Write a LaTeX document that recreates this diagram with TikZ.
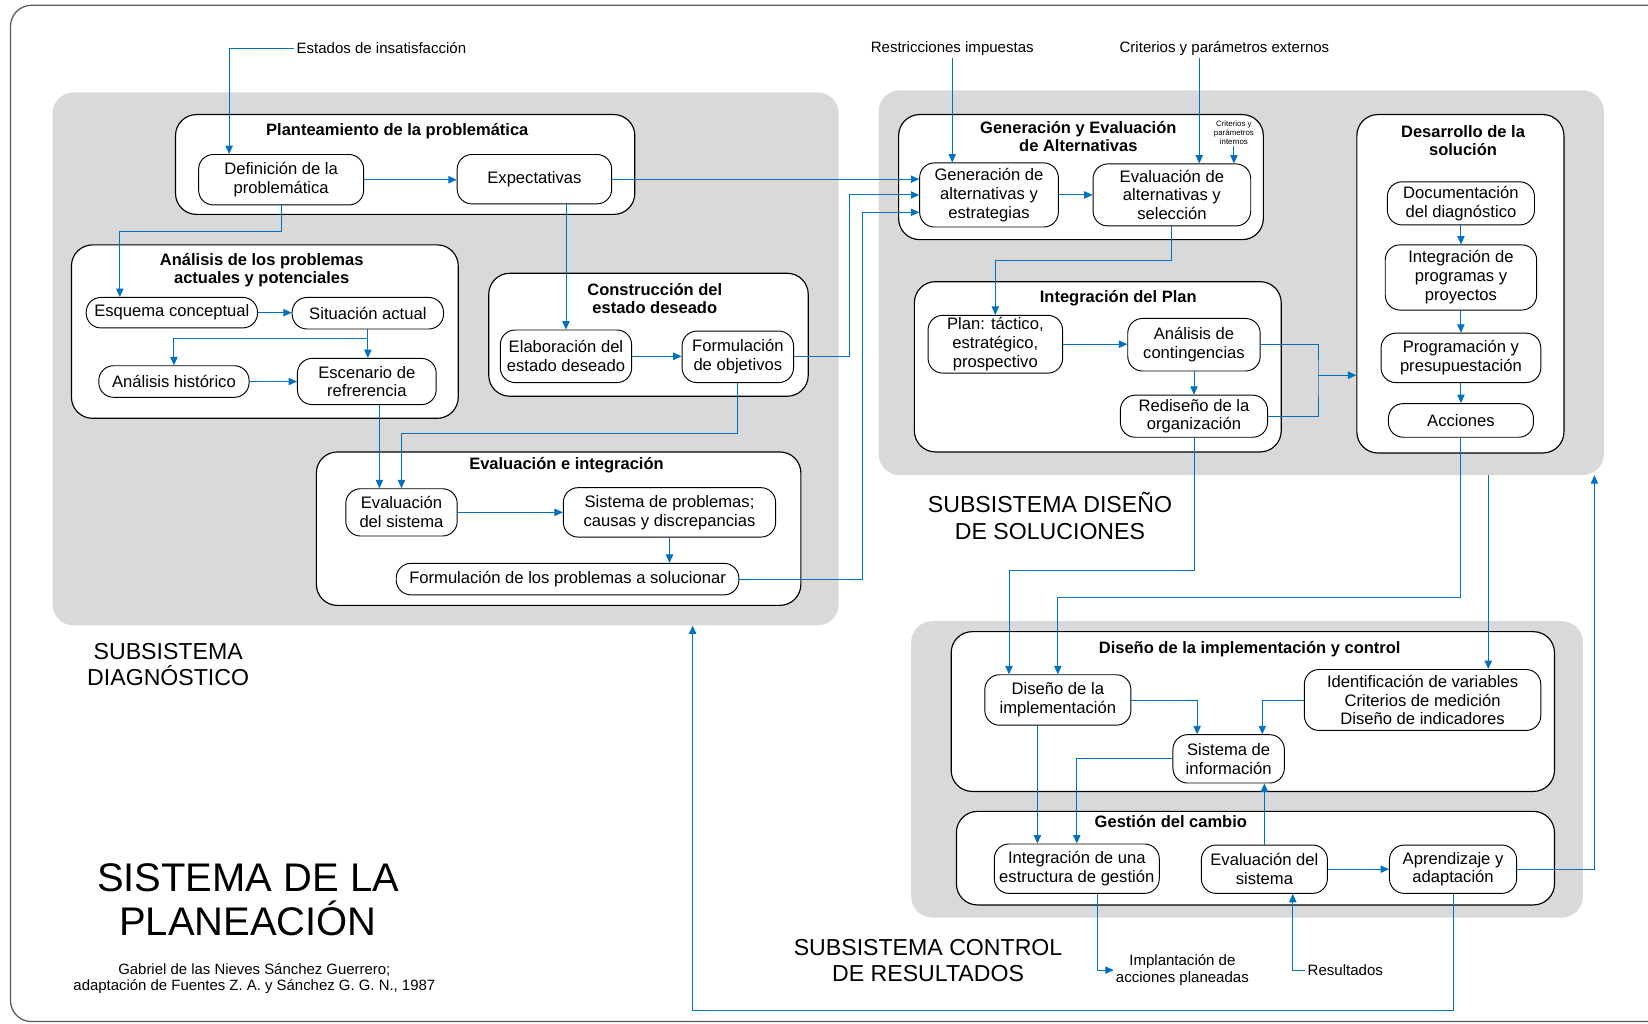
\documentclass[tikz,border=0pt]{standalone}
\usepackage{fontspec}
\setmainfont{Liberation Sans}
\usetikzlibrary{arrows.meta}
\definecolor{azul}{RGB}{0,112,192}
\definecolor{gris}{RGB}{217,217,217}
\definecolor{marcogris}{RGB}{90,90,90}

\begin{document}
\begin{tikzpicture}[x=1pt,y=-1pt,
    panel/.style={fill=gris,rounded corners=20pt},
    grupo/.style={draw,fill=white,line width=1.1pt,rounded corners=20pt},
    caja/.style={draw,fill=white,line width=0.9pt,rounded corners=14pt,align=center,inner sep=2pt,font=\fontsize{15.8}{18}\selectfont},
    titulo/.style={align=center,font=\bfseries\fontsize{15.7}{17}\selectfont},
    etiq/.style={align=center,inner sep=2pt,font=\fontsize{14.3}{16}\selectfont},
    grande/.style={align=center,font=\fontsize{22}{25}\selectfont},
    flecha/.style={draw=azul,line width=0.9pt,-{Triangle[length=8pt,width=7pt]}},
    linea/.style={draw=azul,line width=0.9pt}]

  \useasboundingbox (0,0) rectangle (1568,974);
  \draw[marcogris,line width=1.2pt,rounded corners=20pt] (10,5) rectangle (1590,972);

  % subsystems
  \node[panel,minimum width=748pt,minimum height=507pt] (pdiag) at (424,341.5) {};
  \node[panel,minimum width=690pt,minimum height=366pt] (pdis) at (1181,269) {};
  \node[panel,minimum width=639pt,minimum height=282pt] (pctl) at (1186.5,732) {};

  % groups
  \node[grupo,minimum width=437pt,minimum height=95pt] (gplan) at (385.5,156.5) {};
  \node[grupo,minimum width=368pt,minimum height=165pt] (ganal) at (252,315.5) {};
  \node[grupo,minimum width=304pt,minimum height=117pt] (gcons) at (617,318.5) {};
  \node[grupo,minimum width=461pt,minimum height=146pt] (gevai) at (531.5,503) {};
  \node[grupo,minimum width=347pt,minimum height=119pt] (ggen) at (1028.5,168.5) {};
  \node[grupo,minimum width=349pt,minimum height=162pt] (gintp) at (1044.5,349) {};
  \node[grupo,minimum width=197pt,minimum height=322pt] (desa) at (1389.5,270) {};
  \node[grupo,minimum width=574pt,minimum height=152pt] (gdim) at (1192,677) {};
  \node[grupo,minimum width=569pt,minimum height=89pt] (ggest) at (1194.5,816.5) {};

  \node[titulo] (tplan) at (378,125) {Planteamiento de la problemática};
  \node[titulo] (tanal) at (249,257) {Análisis de los problemas\\actuales y potenciales};
  \node[titulo] (tcons) at (623,284) {Construcción del\\estado deseado};
  \node[titulo] (tevai) at (539,443) {Evaluación e integración};
  \node[titulo] (tgen) at (1026,130) {Generación y Evaluación\\de Alternativas};
  \node[titulo] (tintp) at (1064,284) {Integración del Plan};
  \node[titulo] (tdesa) at (1392,134) {Desarrollo de la\\solución};
  \node[titulo] (tdim) at (1189,618) {Diseño de la implementación y control};
  \node[titulo] (tgest) at (1114,782) {Gestión del cambio};

  % diagnostico
  \node[caja,minimum width=157pt,minimum height=48pt] (def) at (267.5,171) {Definición de la\\problemática};
  \node[caja,minimum width=147pt,minimum height=47pt] (exp) at (508.5,170.5) {Expectativas};
  \node[caja,minimum width=163pt,minimum height=29pt] (esq) at (163.5,297.5) {Esquema conceptual};
  \node[caja,minimum width=144pt,minimum height=30pt] (sit) at (350,298) {Situación actual};
  \node[caja,minimum width=143pt,minimum height=30pt] (his) at (165.5,363) {Análisis histórico};
  \node[caja,minimum width=132pt,minimum height=44pt] (esc) at (349,363) {Escenario de\\refrerencia};
  \node[caja,minimum width=125pt,minimum height=50pt] (ela) at (538.5,339) {Elaboración del\\estado deseado};
  \node[caja,minimum width=106pt,minimum height=49pt] (for) at (702,339.5) {Formulación\\de objetivos};
  \node[caja,minimum width=106pt,minimum height=45pt] (evs) at (382,487.5) {Evaluación\\del sistema};
  \node[caja,minimum width=202pt,minimum height=47pt] (sdp) at (637,487.5) {Sistema de problemas;\\causas y discrepancias};
  \node[caja,minimum width=326pt,minimum height=30pt] (fps) at (540,551) {Formulación de los problemas a solucionar};

  % diseno de soluciones
  \node[caja,minimum width=132pt,minimum height=61pt] (gen) at (941,185.5) {Generación de\\alternativas y\\estrategias};
  \node[caja,minimum width=150pt,minimum height=59pt] (eva) at (1115,185.5) {Evaluación de\\alternativas y\\selección};
  \node[caja,minimum width=128pt,minimum height=55pt] (pla) at (947,327.5) {Plan: táctico,\\estratégico,\\prospectivo};
  \node[caja,minimum width=126pt,minimum height=50pt] (ana) at (1136,328) {Análisis de\\contingencias};
  \node[caja,minimum width=140pt,minimum height=40pt] (red) at (1136,396) {Rediseño de la\\organización};
  \node[caja,minimum width=140pt,minimum height=41pt] (doc) at (1390,193.5) {Documentación\\del diagnóstico};
  \node[caja,minimum width=144pt,minimum height=62pt] (int) at (1390,264) {Integración de\\programas y\\proyectos};
  \node[caja,minimum width=152pt,minimum height=47pt] (pro) at (1390,340.5) {Programación y\\presupuestación};
  \node[caja,minimum width=138pt,minimum height=32pt] (acc) at (1390,400) {Acciones};

  % control de resultados
  \node[caja,minimum width=139pt,minimum height=48pt] (dim) at (1006.5,666) {Diseño de la\\implementación};
  \node[caja,minimum width=225pt,minimum height=58pt] (idv) at (1353.5,666) {Identificación de variables\\Criterios de medición\\Diseño de indicadores};
  \node[caja,minimum width=106pt,minimum height=46pt] (sin) at (1169,722) {Sistema de\\información};
  \node[caja,minimum width=157pt,minimum height=47pt] (ieg) at (1024.5,826.5) {Integración de una\\estructura de gestión};
  \node[caja,minimum width=120pt,minimum height=46pt] (evc) at (1203,827) {Evaluación del\\sistema};
  \node[caja,minimum width=121pt,minimum height=46pt] (apr) at (1382.5,827) {Aprendizaje y\\adaptación};

  % free texts
  \node[etiq,anchor=west] (estados) at (280,46) {Estados de insatisfacción};
  \node[etiq] (restr) at (906,46) {Restricciones impuestas};
  \node[etiq] (crit) at (1165,46) {Criterios y parámetros externos};
  \node[align=center,inner sep=1pt,font=\fontsize{7.5}{8.5}\selectfont] (critint) at (1174,126) {Criterios y\\parámetros\\internos};
  \node[etiq] (impl) at (1125,923) {Implantación de\\acciones planeadas};
  \node[etiq,anchor=west] (resul) at (1242,923) {Resultados};
  \node[grande] (sdiag) at (160,632) {SUBSISTEMA\\DIAGNÓSTICO};
  \node[grande] (sdis) at (999,491) {SUBSISTEMA DISEÑO\\DE SOLUCIONES};
  \node[grande] (sctl) at (883,914) {SUBSISTEMA CONTROL\\DE RESULTADOS};
  \node[align=center,font=\fontsize{38}{42}\selectfont] (stit) at (236,856) {SISTEMA DE LA\\PLANEACIÓN};
  \node[etiq,font=\fontsize{14.2}{16}\selectfont] (cred) at (242,931) {Gabriel de las Nieves Sánchez Guerrero;\\adaptación de Fuentes Z. A. y Sánchez G. G. N., 1987};

  \coordinate (junta) at (1254,357);
  \coordinate (bajada) at (1416,452);
  \coordinate (ret1) at (659,0);
  \coordinate (ret2) at (1517,0);

  % connectors, diagnostico
  \draw[flecha] (estados.west) -| ([xshift=-49.5pt]def.north);
  \draw[flecha] (def.east) -- (def.east -| exp.west);
  \draw[flecha] (def.south) -- ++(0,25) -| ([xshift=-49.5pt]esq.north);
  \draw[flecha] (esq.east) -- (esq.east -| sit.west);
  \draw[flecha] (sit.south) -- (sit.south |- esc.north);
  \draw[flecha] (sit.south) ++(0,9) -| (his.north);
  \draw[flecha] (his.east) -- (his.east -| esc.west);
  \draw[flecha] (exp.south -| ela.north) -- (ela.north);
  \draw[flecha] (ela.east) -- (ela.east -| for.west);
  \draw[flecha] (for.south) -- ++(0,48) -| (evs.north);
  \draw[flecha] ([xshift=12pt]esc.south) -- ([xshift=-21pt]evs.north);
  \draw[flecha] (evs.east) -- (evs.east -| sdp.west);
  \draw[flecha] (sdp.south) -- (sdp.south |- fps.north);

  % connectors, diseno
  \draw[flecha] (exp.east) -- (exp.east -| gen.west);
  \draw[flecha] (for.east) -- ++(53,0) |- (gen.west);
  \draw[flecha] (fps.east) -- ++(117,0) |- ([yshift=-16.5pt]gen.west);
  \draw[flecha] (restr.south) -- (restr.south |- gen.north);
  \draw[flecha] ([xshift=-24pt]crit.south) -- ([xshift=26pt]eva.north);
  \draw[flecha] (critint.south) -- (critint.south |- eva.north);
  \draw[flecha] (gen.east) -- (gen.east -| eva.west);
  \draw[flecha] (eva.south) -- ++(0,32) -| (pla.north);
  \draw[flecha] (pla.east) -- (pla.east -| ana.west);
  \draw[flecha] (ana.south) -- (red.north);
  \draw[linea] (ana.east) -| (junta) |- (red.east);
  \draw[flecha] (junta) -- (junta -| desa.west);
  \draw[flecha] (doc.south) -- (int.north);
  \draw[flecha] (int.south) -- (pro.north);
  \draw[flecha] (pro.south) -- (acc.north);

  % connectors, control
  \draw[flecha] (acc.south) -- ++(0,152) -| (dim.north);
  \draw[flecha] (red.south) -- ++(0,126) -| ([xshift=-46.5pt]dim.north);
  \draw[flecha] (bajada) -- (bajada |- idv.north);
  \draw[flecha] (dim.east) -| ([xshift=-30pt]sin.north);
  \draw[flecha] (idv.west) -| ([xshift=32pt]sin.north);
  \draw[flecha] (sin.west) -| (ieg.north);
  \draw[flecha] ([xshift=-19.5pt]dim.south) -- ([xshift=-37.5pt]ieg.north);
  \draw[flecha] (evc.north) -- (evc.north |- sin.south);
  \draw[flecha] (evc.east) -- (evc.east -| apr.west);
  \draw[flecha] (apr.east) -| (ret2 |- pdis.south);
  \draw[flecha] (apr.south) -- ++(0,111) -| (ret1 |- pdiag.south);
  \draw[flecha] ([xshift=19.5pt]ieg.south) |- (impl.west);
  \draw[flecha] (resul.west) -| ([xshift=27pt]evc.south);
\end{tikzpicture}
\end{document}
